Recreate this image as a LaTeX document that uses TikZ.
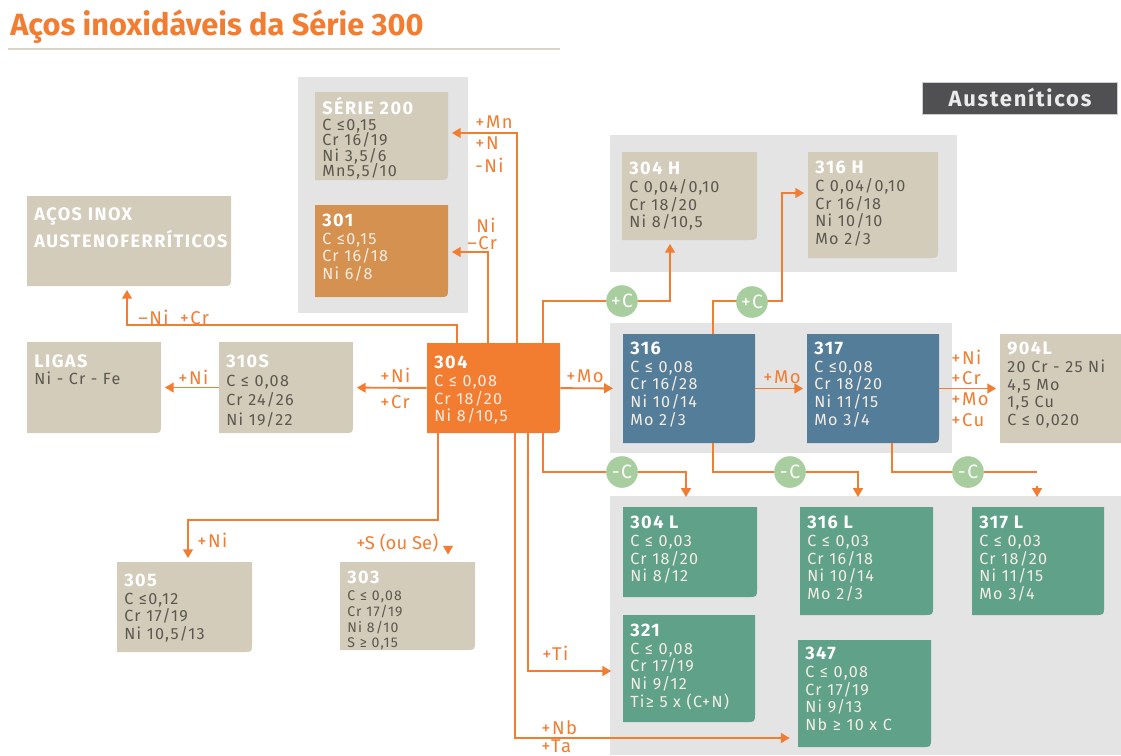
\documentclass[tikz,border=0pt]{standalone}
\usepackage{fontspec}
\setmainfont{Fira Sans}
\newfontfamily\spaced{Fira Sans}[LetterSpace=8]
\usetikzlibrary{arrows.meta,fit}

\definecolor{inoxorange}{HTML}{F27C30}
\definecolor{copper}{HTML}{D59150}
\definecolor{sand}{HTML}{D4CCBB}
\definecolor{panel}{HTML}{E4E4E4}
\definecolor{steelblue}{HTML}{547D99}
\definecolor{lowc}{HTML}{5FA189}
\definecolor{carbon}{HTML}{A8CE9F}
\definecolor{ink}{HTML}{5B5850}
\definecolor{pale}{HTML}{F6EEE6}
\definecolor{badge}{HTML}{505052}
\definecolor{rule}{HTML}{DAD4C7}

\tikzset{
  link/.style={draw=inoxorange, line width=1.1pt, -{Triangle[length=5pt,width=5.5pt]}, shorten >=2pt},
  tag/.style={anchor=west, inner sep=0pt, text=inoxorange, font=\spaced\fontsize{10.5}{12}\selectfont},
  carbonmark/.style={circle, fill=carbon, text=white, minimum size=18pt, inner sep=0pt, font=\spaced\fontsize{11}{12}\selectfont},
  boxtext/.style={anchor=north west, inner sep=0pt, align=left, font=\spaced\fontsize{9.2}{10}\selectfont},
}

% grade title inside a box
\newcommand{\hd}[1]{{\fontsize{10.3}{11}\selectfont\bfseries\color{white}#1}}
\newcommand{\sm}{\fontsize{8}{9}\selectfont}
% name, x1, y1, x2, y2, fill, text colour, top offset, text
\newcommand{\alloybox}[9]{%
  \fill[#6] (#2,#3) -- (#4,#3) -- (#4,#5-9) .. controls (#4,#5) .. (#4-9,#5) -- (#2,#5) -- cycle;
  \node[fit={(#2,#3) (#4,#5)}, inner sep=0pt] (#1) {};
  \node[boxtext, text=#7] (#1-txt) at (#2+7,#3+#8) {#9};
}

\begin{document}
\begin{tikzpicture}[x=0.02cm, y=-0.02cm]
  \useasboundingbox (0,0) rectangle (1121,755);

  % title
  \node[anchor=west, inner sep=0pt, text=inoxorange, font=\fontsize{17.5}{20}\selectfont\bfseries] (title) at (10,27) {Aços inoxidáveis da Série 300};
  \draw[rule, line width=1.2pt] (8,49) -- (560,49);
  \node[fill=badge, draw=gray!40, text=white!92!black, minimum width=3.9cm, minimum height=0.64cm, font=\spaced\fontsize{12.5}{14}\selectfont\bfseries] (family) at (1020,98) {Austeníticos};

  % grey panels
  \fill[panel] (298,77) rectangle (468,313);
  \fill[panel] (610,135) rectangle (957,272);
  \fill[panel] (610,323) rectangle (952,453);
  \fill[panel] (610,496) rectangle (1121,755);

  % grades
  \alloybox{s200}{315}{92}{448}{180}{sand}{ink}{5}{\hd{SÉRIE 200}\\[-1pt]C ≤0,15\\[-1.2pt]Cr 16/19\\[-1.2pt]Ni 3,5/6\\[-1.2pt]Mn5,5/10}
  \alloybox{s301}{315}{205}{448}{297}{copper}{pale}{9}{\hd{301}\\C ≤0,15\\Cr 16/18\\Ni 6/8}
  \alloybox{duplex}{27}{196}{231}{286}{sand}{ink}{11}{\hd{AÇOS INOX}\\[2pt]\hd{AUSTENOFERRÍTICOS}}
  \alloybox{ligas}{27}{342}{161}{433}{sand}{ink}{12}{\hd{LIGAS}\\Ni - Cr - Fe}
  \alloybox{s310}{219}{342}{353}{433}{sand}{ink}{12}{\hd{310S}\\[1pt]C ≤ 0,08\\[1pt]Cr 24/26\\[1pt]Ni 19/22}
  \alloybox{n304}{427}{343}{560}{433}{inoxorange}{pale}{13}{\hd{304}\\C ≤ 0,08\\Cr 18/20\\Ni 8/10,5}
  \alloybox{h304}{622}{152}{757}{240}{sand}{ink}{10}{\hd{304 H}\\C 0,04/0,10\\Cr 18/20\\Ni 8/10,5}
  \alloybox{h316}{808}{152}{938}{258}{sand}{ink}{9}{\hd{316 H}\\C 0,04/0,10\\Cr 16/18\\Ni 10/10\\Mo 2/3}
  \alloybox{n316}{623}{334}{755}{443}{steelblue}{pale}{8}{\hd{316}\\C ≤ 0,08\\Cr 16/28\\Ni 10/14\\Mo 2/3}
  \alloybox{n317}{807}{334}{939}{443}{steelblue}{pale}{8}{\hd{317}\\C ≤0,08\\Cr 18/20\\Ni 11/15\\Mo 3/4}
  \alloybox{l904}{1000}{334}{1135}{443}{sand}{ink}{8}{\hd{904L}\\20 Cr - 25 Ni\\4,5 Mo\\1,5 Cu\\C ≤ 0,020}
  \alloybox{s305}{117}{562}{252}{652}{sand}{ink}{12}{\hd{305}\\C ≤0,12\\Cr 17/19\\Ni 10,5/13}
  \alloybox{s303}{340}{562}{475}{650}{sand}{ink}{9}{\hd{303}\\[-0.5pt]\sm C ≤ 0,08\\[-1pt]\sm Cr 17/19\\[-1pt]\sm Ni 8/10\\[-1pt]\sm S ≥ 0,15}
  \alloybox{l304}{623}{507}{757}{597}{lowc}{pale}{9}{\hd{304 L}\\C ≤ 0,03\\Cr 18/20\\Ni 8/12}
  \alloybox{l316}{800}{507}{933}{615}{lowc}{pale}{9}{\hd{316 L}\\C ≤ 0,03\\Cr 16/18\\Ni 10/14\\Mo 2/3}
  \alloybox{l317}{972}{507}{1104}{615}{lowc}{pale}{9}{\hd{317 L}\\C ≤ 0,03\\Cr 18/20\\Ni 11/15\\Mo 3/4}
  \alloybox{t321}{623}{615}{755}{722}{lowc}{pale}{9}{\hd{321}\\C ≤ 0,08\\Cr 17/19\\Ni 9/12\\Ti≥ 5 x (C+N)}
  \alloybox{t347}{798}{640}{931}{747}{lowc}{pale}{7}{\hd{347}\\C ≤ 0,08\\Cr 17/19\\Ni 9/13\\Nb ≥ 10 x C}

  % connectors leaving 304 upwards
  \draw[link] (n304.north -| 517,0) |- (s200.east |- 0,133);
  \draw[link] (n304.north -| 488,0) |- (s301.east |- 0,252);
  \draw[link] (n304.north -| 457,0) |- (127,325) -- (duplex.south -| 127,0);
  \draw[link] (n304.north -| 543,0) |- (670,301) -- (h304.south -| 670,0);
  \draw[link] (n316.north -| 713,0) |- (782,301) |- (h316.west |- 0,193);

  % horizontal chain
  \draw[link] (n304) -- (s310);
  \draw[link] (s310) -- (ligas);
  \draw[link, shorten >=5.5pt] (n304) -- (n316);
  \draw[link] (n316) -- (n317);
  \draw[link] (n317) -- (l904);

  % connectors leaving downwards
  \draw[link, shorten >=5.5pt] (n304.south -| 543,0) |- (686,472) -- (l304.north -| 686,0);
  \draw[link, shorten >=5.5pt] (n316.south -| 713,0) |- (858,472) -- (l316.north -| 858,0);
  \draw[draw=inoxorange, line width=1.1pt] (n317.south -| 892,0) |- (1037,472);
  \draw[link, shorten >=5.5pt] (1037,486) -- (l317.north -| 1037,0);
  \draw[link] (n304.south -| 438,0) |- (188,520) -- (s305.north -| 188,0);
  \draw[link, shorten >=4pt] (448,546) -- (s303.north -| 448,0);
  \draw[link, shorten >=6.5pt] (n304.south -| 528,0) |- (t321.west |- 0,671);
  \draw[link, shorten >=4.5pt] (n304.south -| 515,0) |- (t347.west |- 0,738);

  % carbon marks
  \node[carbonmark] (cup1) at (622,301) {+C};
  \node[carbonmark] (cup2) at (752,302) {+C};
  \node[carbonmark] (cdn1) at (622,472) {-C};
  \node[carbonmark] (cdn2) at (790,472) {-C};
  \node[carbonmark] (cdn3) at (968,472) {-C};

  % element labels
  \node[tag] (lbMn) at (475,122) {+Mn};
  \node[tag] (lbN) at (475,143) {+N};
  \node[tag] (lbNi) at (475,165) {-Ni};
  \node[tag] (lbNi1) at (476,225) {Ni};
  \node[tag] (lbCr1) at (467,243) {–Cr};
  \node[tag] (lbDup) at (138,317) {–Ni\hspace{0.6em}+Cr};
  \node[tag] (lbNi2) at (178,377) {+Ni};
  \node[tag] (lbNi3) at (380,375) {+Ni};
  \node[tag] (lbCr3) at (380,402) {+Cr};
  \node[tag] (lbMo1) at (566,376) {+Mo};
  \node[tag] (lbMo2) at (763,377) {+Mo};
  \node[tag] (lbNi4) at (951,357) {+Ni};
  \node[tag] (lbCr4) at (951,378) {+Cr};
  \node[tag] (lbMo4) at (951,399) {+Mo};
  \node[tag] (lbCu4) at (951,420) {+Cu};
  \node[tag] (lbNi5) at (197,540) {+Ni};
  \node[tag, font=\fontsize{10.5}{12}\selectfont] (lbS) at (356,543) {+S (ou Se)};
  \node[tag] (lbTi) at (542,653) {+Ti};
  \node[tag] (lbNb) at (541,728) {+Nb};
  \node[tag] (lbTa) at (541,746) {+Ta};
\end{tikzpicture}
\end{document}
